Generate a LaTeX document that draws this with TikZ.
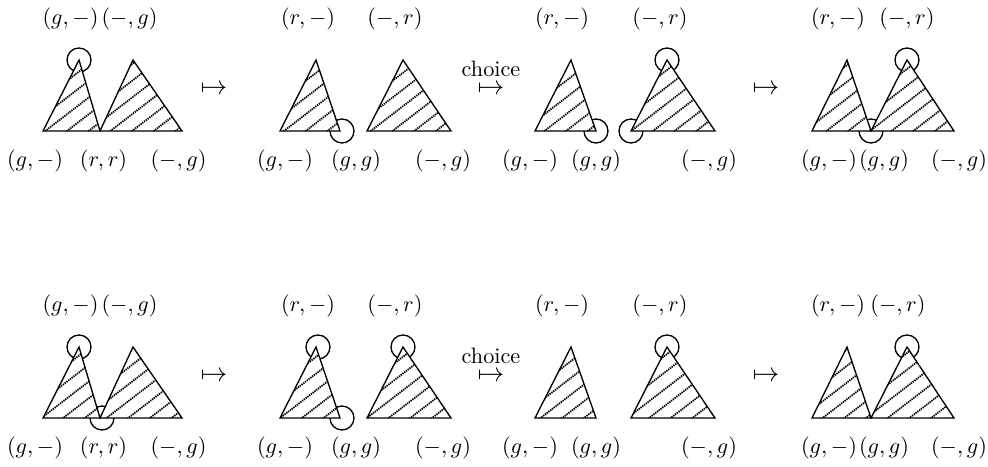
\documentclass[tikz,border=0pt]{standalone}
\usepackage{amsmath}
\newcommand\hatchtri[3]{%
  \begin{scope}
    \fill[white] #1 -- #2 -- #3 -- cycle;
    \clip #1 -- #2 -- #3 -- cycle;
    \foreach \k in {-28,...,46} \draw[hatch] (\k*21.7,500) -- ++(800,-616);
  \end{scope}
  \draw[edge] #1 -- #2 -- #3 -- cycle;}
\begin{document}
\begin{tikzpicture}[x=0.45pt,y=-0.45pt,
  edge/.style={line width=0.6pt,line join=miter},
  hatch/.style={line width=0.8pt,dash pattern=on 0.6pt off 0.4pt},
  lab/.style={inner sep=0pt,anchor=center},
  ring/.style={circle,draw,line width=0.6pt,minimum size=10.8pt,inner sep=0pt},
  arr/.style={inner sep=0pt,anchor=base,font=\large}]
\useasboundingbox (0,0) rectangle (988,466);

\foreach \dy/\r in {0/a,287/b}{
\begin{scope}[yshift=-\dy*0.45pt]
  % labels panel 1
  \node[lab] (p1t1\r) at (70.5,19) {$(g,-)$};
  \node[lab] (p1t2\r) at (129.5,19) {$(-,g)$};
  \node[lab] (p1b1\r) at (35,161) {$(g,-)$};
  \node[lab] (p1b2\r) at (103.5,161) {$(r,r)$};
  \node[lab] (p1b3\r) at (178.5,161) {$(-,g)$};
  % panel 2
  \node[lab] (p2t1\r) at (308,19) {$(r,-)$};
  \node[lab] (p2t2\r) at (395,19) {$(-,r)$};
  \node[lab] (p2b1\r) at (285,161) {$(g,-)$};
  \node[lab] (p2b2\r) at (356,161) {$(g,g)$};
  \node[lab] (p2b3\r) at (443,161) {$(-,g)$};
  % panel 3
  \node[lab] (p3t1\r) at (562,19) {$(r,-)$};
  \node[lab] (p3t2\r) at (660,19) {$(-,r)$};
  \node[lab] (p3b1\r) at (530,161) {$(g,-)$};
  \node[lab] (p3b2\r) at (596,161) {$(g,g)$};
  \node[lab] (p3b3\r) at (709,161) {$(-,g)$};
  % panel 4
  \node[lab] (p4t1\r) at (838,19) {$(r,-)$};
  \node[lab] (p4b1\r) at (829,161) {$(g,-)$};
  \node[lab] (p4b2\r) at (884,161) {$(g,g)$};
  \node[lab] (p4b3\r) at (959,161) {$(-,g)$};
  % arrows
  \node[arr] (m1\r) at (214,94.5) {$\mapsto$};
  \node[inner sep=0pt,anchor=base] (m2\r) at (491,94.5)
     {\begin{tabular}[b]{@{}c@{}}choice\\[-4pt]\large$\mapsto$\end{tabular}};
  \node[arr] (m3\r) at (766,94.5) {$\mapsto$};
\end{scope}}
\node[lab] (p4t2a) at (907,19) {$(-,r)$};
\node[lab] (p4t2b) at (898,306) {$(-,r)$};

% rings (drawn first, occluded by triangles)
\node[ring] (c1) at (79,60) {};
\node[ring] (c2) at (342,131) {};
\node[ring] (c3) at (596,131) {};
\node[ring] (c4) at (631,131) {};
\node[ring] (c5) at (667,60) {};
\node[ring] (c6) at (907,60) {};
\node[ring] (c7) at (871,131) {};
\node[ring] (c8) at (79,347) {};
\node[ring] (c9) at (102,418) {};
\node[ring] (c10) at (318,347) {};
\node[ring] (c11) at (342,418) {};
\node[ring] (c12) at (403,347) {};
\node[ring] (c13) at (667,347) {};
\node[ring] (c14) at (907,347) {};

% triangles
\foreach \b/\t in {131/60,418/347}{
  \hatchtri{(43,\b)}{(100,\b)}{(79,\t)}
  \hatchtri{(100,\b)}{(182,\b)}{(133,\t)}
  \hatchtri{(280,\b)}{(340,\b)}{(316,\t)}
  \hatchtri{(367,\b)}{(451,\b)}{(403,\t)}
  \hatchtri{(535,\b)}{(596,\b)}{(571,\t)}
  \hatchtri{(631,\b)}{(715,\b)}{(667,\t)}
  \hatchtri{(812,\b)}{(871,\b)}{(847,\t)}
  \hatchtri{(871,\b)}{(954,\b)}{(907,\t)}
}
\end{tikzpicture}
\end{document}
